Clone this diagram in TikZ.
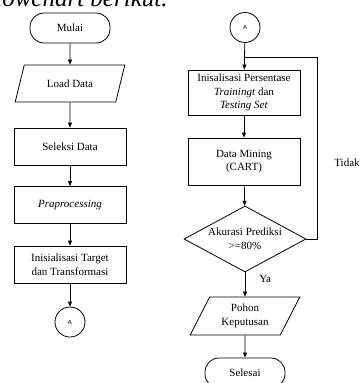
\documentclass[tikz,border=0pt]{standalone}
\usepackage{fontspec}
\setmainfont{Liberation Serif}
\newfontfamily\arialf{Liberation Sans}
\usetikzlibrary{shapes.geometric,arrows.meta}
\begin{document}
\begin{tikzpicture}[x=1pt,y=-1pt,line width=.8pt,>={Triangle[length=5pt,width=4pt]},
 every node/.style={font=\fontsize{11}{13.5}\selectfont,align=center,inner sep=1pt},
 proc/.style={draw,minimum width=112,minimum height=37},
 term/.style={draw,rounded corners=14pt,minimum width=80,minimum height=30},
 io/.style={draw,trapezium,trapezium left angle=64,trapezium right angle=116,trapezium stretches=true,minimum width=110,minimum height=37},
 conn/.style={draw,circle,minimum size=30,inner sep=0,font=\arialf\fontsize{6}{7}\selectfont},
 dec/.style={draw,diamond,aspect=1.85,minimum width=122,minimum height=66,inner sep=0}]
\useasboundingbox(0,0)rectangle(363,383);
\node[anchor=base west,inner sep=0,font=\fontsize{25}{25}\selectfont\itshape](ttl)at(-12,6){flowchart berikut.};
% kolom kiri
\node[term](mul)at(70,28){Mulai};
\node[io](ld)at(70,83.5){Load Data};
\node[proc](sel)at(70,146.5){Seleksi Data};
\node[proc](pre)at(70,205){\textit{Praprocessing}};
\node[proc](ini)at(70,264.5){Inisialisasi Target\\dan Transformasi};
\node[conn](ca)at(70,322){A};
\foreach \a/\b in {mul/ld,ld/sel,sel/pre,pre/ini,ini/ca}{\draw[->](\a)--(\b);}
% kolom kanan
\node[conn](cb)at(245,27.5){A};
\node[proc,minimum height=45](per)at(244,92.5){Inisalisasi Persentase\\\textit{Trainingt} dan\\\textit{Testing Set}};
\node[proc,minimum height=47](dm)at(244,161.5){Data Mining\\(CART)};
\node[dec](akr)at(245,239){Akurasi Prediksi\\>=80\%};
\node[io,trapezium left angle=62,trapezium right angle=118,minimum height=38](phn)at(245,316){Pohon\\Keputusan};
\node[term](sls)at(245,373){Selesai};
\coordinate(lp)at(245,57);
\foreach \a/\b in {cb/per,per/dm,dm/akr,akr/phn,phn/sls}{\draw[->](\a)--(\b);}
\draw(akr.east)--++(11,0)|-(lp);
\node[anchor=west](tdk)at(333,163){Tidak};
\node[anchor=west](ya)at(258,279){Ya};
\end{tikzpicture}
\end{document}
